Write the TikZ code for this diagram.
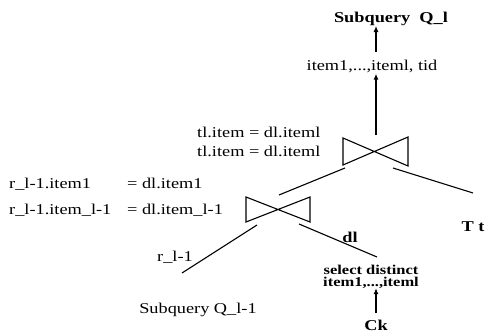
\documentclass[tikz,border=0pt]{standalone}
\usepackage{fontspec}
\setmainfont[FakeStretch=1.22]{Liberation Serif}
\usetikzlibrary{arrows.meta}
\begin{document}
\begin{tikzpicture}[x=1pt,y=-1pt,
  lbl/.style={inner sep=0pt,font=\fontsize{15}{17}\selectfont,text height=10pt,text depth=3pt},
  blbl/.style={lbl,font=\fontsize{15}{17}\selectfont\bfseries},
  slbl/.style={inner sep=0pt,font=\fontsize{13.5}{12}\selectfont\bfseries,text height=8pt,text depth=2pt},
  edge/.style={line width=1.1pt},
  arr/.style={line width=1.1pt,-{Latex[length=6pt,width=5pt]}},
  bow/.style={line width=1.1pt,line join=miter}]
\useasboundingbox (0,0) rectangle (488,332);
% texts
\node[blbl] (q) at (391,19) {Subquery\ \ Q\_l};
\node[lbl] (items) at (372,67) {item1,...,iteml, tid};
\node[lbl,anchor=west] (c1) at (197,134) {tl.item = dl.iteml};
\node[lbl,anchor=west] (c2) at (197,153) {tl.item = dl.iteml};
\node[lbl,anchor=west] (l1a) at (9,185) {r\_l-1.item1};
\node[lbl,anchor=west] (l1b) at (127,185) {= dl.item1};
\node[lbl,anchor=west] (l2a) at (9,211) {r\_l-1.item\_l-1};
\node[lbl,anchor=west] (l2b) at (127,211) {= dl.item\_l-1};
\node[blbl] (tt) at (473,228) {T t};
\node[blbl] (dl) at (350,239) {dl};
\node[lbl] (rl) at (175,258) {r\_l-1};
\node[slbl] (sel1) at (371,271) {select distinct};
\node[slbl] (sel2) at (371,283) {item1,...,iteml};
\node[lbl] (sq) at (198,310) {Subquery Q\_l-1};
\node[blbl,text depth=0pt] (ck) at (376,325) {Ck};
% upper join
\coordinate (j1) at (376,152);
\draw[bow] (343,138) -- (408,166) -- (408,137) -- (343,165) -- cycle;
% lower join
\coordinate (j2) at (280,209);
\draw[bow] (246,197) -- (310,222) -- (310,197) -- (246,222) -- cycle;
% connectors
\coordinate (a1s) at (376,135);
\draw[arr] (a1s) -- (items.south -| a1s);
\coordinate (a2s) at (376,52);
\draw[arr] (a2s) -- (376,26);
\coordinate (e1a) at (345,168); \coordinate (e1b) at (279,195);
\draw[edge] (e1a) -- (e1b);
\coordinate (e2a) at (393,168); \coordinate (e2b) at (473,193);
\draw[edge] (e2a) -- (e2b);
\coordinate (e3a) at (257,225); \coordinate (e3b) at (182,273);
\draw[edge] (e3a) -- (e3b);
\coordinate (e4a) at (299,224); \coordinate (e4b) at (377,257);
\draw[edge] (e4a) -- (e4b);
\coordinate (a3s) at (376,313);
\draw[arr] (a3s) -- (sel2.south -| a3s);
\end{tikzpicture}
\end{document}
